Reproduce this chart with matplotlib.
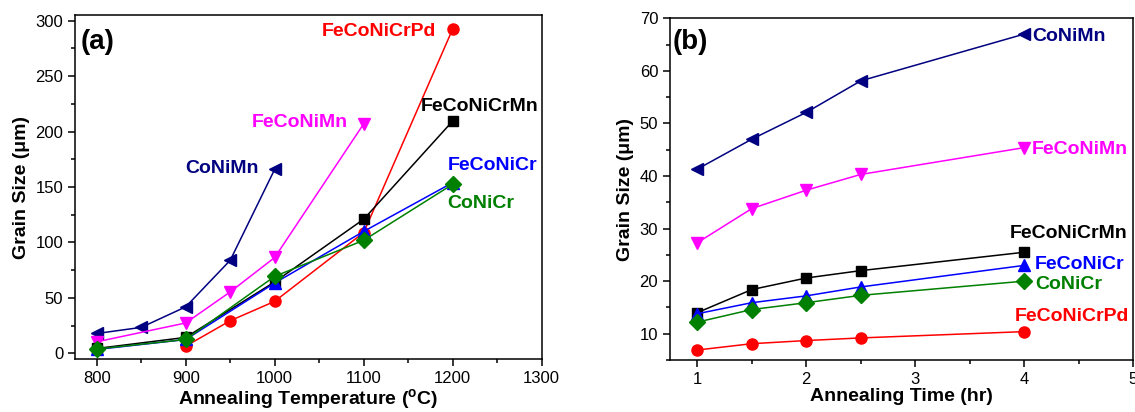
import numpy as np
import matplotlib
matplotlib.use('Agg')
import matplotlib.pyplot as plt
from matplotlib.ticker import MultipleLocator

plt.rcParams['font.family'] = ['Liberation Sans', 'DejaVu Sans']
plt.rcParams['mathtext.fontset'] = 'custom'
plt.rcParams['mathtext.rm'] = 'Liberation Sans'
plt.rcParams['mathtext.bf'] = 'Liberation Sans:bold'

# ---- panel (a): grain size vs annealing temperature
temp_coniMn = [800, 850, 900, 950, 1000]
gs_coniMn = [18, 23.5, 42, 84, 166]
temp_fecoNiMn = [800, 900, 950, 1000, 1100]
gs_fecoNiMn = [10.5, 27.5, 55.5, 86.5, 207]
temp_fecoNiCrMn = [800, 900, 1000, 1100, 1200]
gs_fecoNiCrMn = [4.5, 14.5, 64.5, 121, 209.5]
temp_fecoNiCr = [800, 900, 1000, 1100, 1200]
gs_fecoNiCr = [3.6, 12.6, 63.5, 110, 154]
temp_coNiCr = [800, 900, 1000, 1100, 1200]
gs_coNiCr = [4, 12.6, 69.5, 102, 152.5]
temp_fecoNiCrPd = [900, 950, 1000, 1100, 1200]
gs_fecoNiCrPd = [6.6, 29.5, 47, 109, 292.5]

# ---- panel (b): grain size vs annealing time
time_h = [1, 1.5, 2, 2.5, 4]
t_coNiMn = [41.3, 47.0, 52.1, 58.1, 67.0]
t_fecoNiMn = [27.3, 33.8, 37.3, 40.3, 45.4]
t_fecoNiCrMn = [14.0, 18.4, 20.6, 22.0, 25.5]
t_fecoNiCr = [13.8, 15.9, 17.2, 18.9, 23.0]
t_coNiCr = [12.2, 14.6, 15.9, 17.3, 20.0]
t_fecoNiCrPd = [6.9, 8.1, 8.7, 9.2, 10.4]

navy = '#000080'
mag = '#FF00FF'
blue = '#0000FF'
green = '#008000'
red = '#FF0000'

fig = plt.figure(figsize=(11.35, 4.12), dpi=100)
ax1 = fig.add_axes([0.0661, 0.1286, 0.4112, 0.835])
ax2 = fig.add_axes([0.5903, 0.1262, 0.4082, 0.8294])

lw = 1.1
ax1.plot(temp_coniMn, gs_coniMn, '-<', color=navy, ms=9, lw=lw)
ax1.plot(temp_fecoNiMn, gs_fecoNiMn, '-v', color=mag, ms=9, lw=lw)
ax1.plot(temp_fecoNiCrPd, gs_fecoNiCrPd, '-o', color=red, ms=8, lw=lw)
ax1.plot(temp_fecoNiCrMn, gs_fecoNiCrMn, '-s', color='black', ms=7, lw=lw)
ax1.plot(temp_fecoNiCr, gs_fecoNiCr, '-^', color=blue, ms=9, lw=lw)
ax1.plot(temp_coNiCr, gs_coNiCr, '-D', color=green, ms=8.5, lw=lw)

ax2.plot(time_h, t_coNiMn, '-<', color=navy, ms=9, lw=lw)
ax2.plot(time_h, t_fecoNiMn, '-v', color=mag, ms=9, lw=lw)
ax2.plot(time_h, t_fecoNiCrMn, '-s', color='black', ms=7, lw=lw)
ax2.plot(time_h, t_fecoNiCr, '-^', color=blue, ms=9, lw=lw)
ax2.plot(time_h, t_coNiCr, '-D', color=green, ms=8.5, lw=lw)
ax2.plot(time_h, t_fecoNiCrPd, '-o', color=red, ms=8, lw=lw)

fs = 14
kw = dict(fontsize=fs, fontweight='bold', va='center')
ax1.text(782, 281, '(a)', fontsize=20, fontweight='bold', va='center')
ax1.text(1181, 290, 'FeCoNiCrPd', color=red, ha='right', **kw)
ax1.text(1164, 222.5, 'FeCoNiCrMn', color='black', **kw)
ax1.text(974, 208, 'FeCoNiMn', color=mag, **kw)
ax1.text(900, 167, 'CoNiMn', color=navy, **kw)
ax1.text(1194, 169, 'FeCoNiCr', color=blue, **kw)
ax1.text(1194, 135, 'CoNiCr', color=green, **kw)

ax2.text(0.775, 65.5, '(b)', fontsize=20, fontweight='bold', va='center')
ax2.text(4.07, 66.6, 'CoNiMn', color=navy, **kw)
ax2.text(4.07, 45.1, 'FeCoNiMn', color=mag, **kw)
ax2.text(3.87, 29.0, 'FeCoNiCrMn', color='black', **kw)
ax2.text(4.10, 23.2, 'FeCoNiCr', color=blue, **kw)
ax2.text(4.10, 19.3, 'CoNiCr', color=green, **kw)
ax2.text(3.91, 13.2, 'FeCoNiCrPd', color=red, **kw)

ax1.set_xlim(775.6, 1300)
ax1.set_ylim(-5, 305)
ax1.set_xticks([800, 900, 1000, 1100, 1200, 1300])
ax1.set_yticks([0, 50, 100, 150, 200, 250, 300])
ax1.xaxis.set_minor_locator(MultipleLocator(50))
ax1.yaxis.set_minor_locator(MultipleLocator(25))
ax1.set_xlabel(r'Annealing Temperature ($\mathbf{^o}$C)', fontsize=14, fontweight='bold', labelpad=1)
ax1.set_ylabel('Grain Size (\u03bcm)', fontsize=14, fontweight='bold', labelpad=4)

ax2.set_xlim(0.75, 5)
ax2.set_ylim(5, 70)
ax2.set_xticks([1, 2, 3, 4, 5])
ax2.set_yticks([10, 20, 30, 40, 50, 60, 70])
ax2.xaxis.set_minor_locator(MultipleLocator(0.5))
ax2.yaxis.set_minor_locator(MultipleLocator(5))
ax2.set_xlabel('Annealing Time (hr)', fontsize=14, fontweight='bold', labelpad=1)
ax2.set_ylabel('Grain Size (\u03bcm)', fontsize=14, fontweight='bold', labelpad=4)

for ax in (ax1, ax2):
    for s in ax.spines.values():
        s.set_linewidth(1.1)
    ax.tick_params(which='both', direction='out', top=False, right=False, labelsize=12, width=1.1)
    ax.tick_params(which='major', length=5)
    ax.tick_params(which='minor', length=3)

fig.savefig('out.png', dpi=100)
